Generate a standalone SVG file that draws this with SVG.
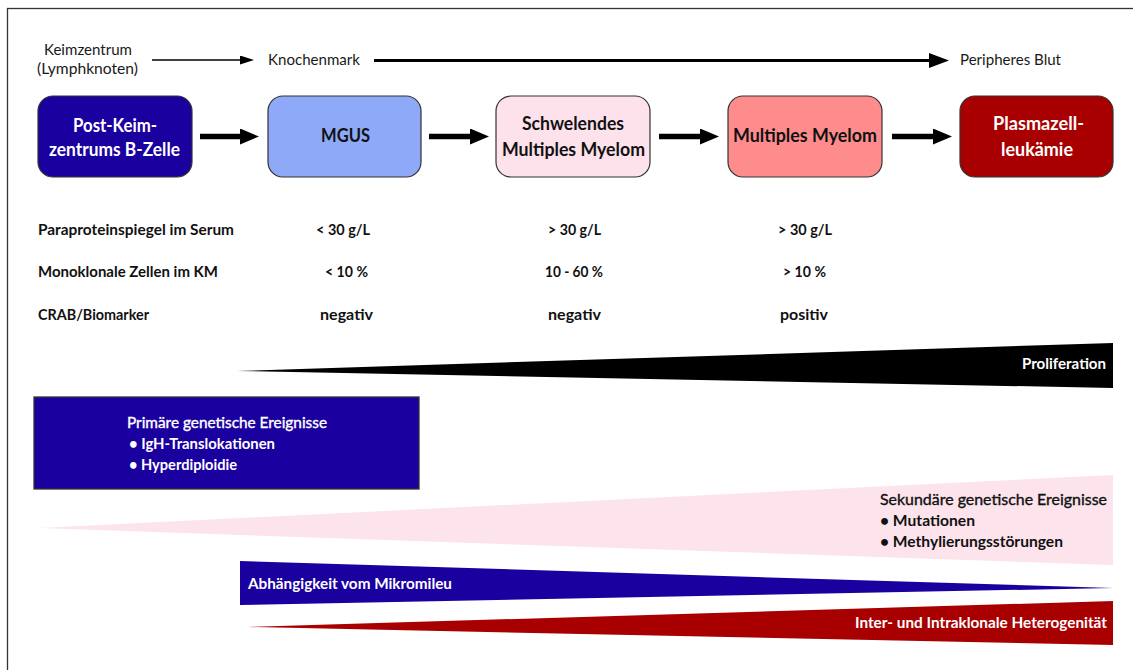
<svg xmlns="http://www.w3.org/2000/svg" width="1133" height="670" viewBox="0 0 1133 670">
  <style>
    text { font-family: Lato, "Liberation Sans", sans-serif; }
    .reg { font-size: 15px; fill: #1a1a1a; }
    .lbl { font-size: 15px; font-weight: bold; fill: #111; }
    .box { stroke: #333; stroke-width: 1.2; }
    .boxtxt { font-size: 18px; font-weight: bold; }
    .white { fill: #fff; }
    .dark { fill: #111; }
    .head { font-size: 15px; stroke-width: 0.35; }
    .head.white { stroke: #fff; }
    .head.dark { stroke: #111; }
    .bul { font-size: 15px; font-weight: bold; }
  </style>
  <defs>
    <marker id="headThin" viewBox="0 0 14 9" markerWidth="14" markerHeight="9" refX="0" refY="4.5" markerUnits="userSpaceOnUse" orient="auto">
      <path d="M0,0 L14,4.5 L0,9 Z" fill="#000"/>
    </marker>
    <marker id="headMid" viewBox="0 0 20 15" markerWidth="20" markerHeight="15" refX="0" refY="7.5" markerUnits="userSpaceOnUse" orient="auto">
      <path d="M0,0 L20,7.5 L0,15 Z" fill="#000"/>
    </marker>
    <marker id="headBold" viewBox="0 0 19 16" markerWidth="19" markerHeight="16" refX="0" refY="8" markerUnits="userSpaceOnUse" orient="auto">
      <path d="M0,0 L19,8 L0,16 Z" fill="#000"/>
    </marker>
  </defs>

  <rect width="1133" height="670" fill="#fff"/>
  <!-- outer frame, open to the right and bottom -->
  <rect x="7.5" y="8.5" width="1140" height="680" fill="none" stroke="#333" stroke-width="1.3"/>

  <!-- location axis -->
  <g id="locations">
    <text class="reg" x="44" y="55" textLength="88" lengthAdjust="spacingAndGlyphs">Keimzentrum</text>
    <text class="reg" x="37" y="74" textLength="101" lengthAdjust="spacingAndGlyphs">(Lymphknoten)</text>
    <text class="reg" x="268" y="65" textLength="92" lengthAdjust="spacingAndGlyphs">Knochenmark</text>
    <text class="reg" x="960" y="65" textLength="101" lengthAdjust="spacingAndGlyphs">Peripheres Blut</text>
  </g>

  <!-- stage nodes -->
  <g id="node-bcell">
    <rect class="box" x="38" y="96" width="154" height="81" rx="15" fill="#1A009F"/>
    <text class="boxtxt white" x="73" y="132" textLength="84" lengthAdjust="spacingAndGlyphs">Post-Keim-</text>
    <text class="boxtxt white" x="49" y="156" textLength="131" lengthAdjust="spacingAndGlyphs">zentrums B-Zelle</text>
  </g>
  <g id="node-mgus">
    <rect class="box" x="268" y="96" width="153" height="81" rx="15" fill="#8FA9F9"/>
    <text class="boxtxt dark" x="321" y="142" textLength="49" lengthAdjust="spacingAndGlyphs">MGUS</text>
  </g>
  <g id="node-smm">
    <rect class="box" x="496" y="96" width="154" height="81" rx="15" fill="#FDE1EB"/>
    <text class="boxtxt dark" x="522" y="130" textLength="102" lengthAdjust="spacingAndGlyphs">Schwelendes</text>
    <text class="boxtxt dark" x="502" y="156" textLength="143" lengthAdjust="spacingAndGlyphs">Multiples Myelom</text>
  </g>
  <g id="node-mm">
    <rect class="box" x="728" y="96" width="154" height="81" rx="15" fill="#FF8C8C"/>
    <text class="boxtxt dark" x="733" y="142" textLength="144" lengthAdjust="spacingAndGlyphs">Multiples Myelom</text>
  </g>
  <g id="node-pcl">
    <rect class="box" x="960" y="96" width="153" height="81" rx="15" fill="#A80000"/>
    <text class="boxtxt white" x="993" y="130" textLength="91" lengthAdjust="spacingAndGlyphs">Plasmazell-</text>
    <text class="boxtxt white" x="1001" y="156" textLength="72" lengthAdjust="spacingAndGlyphs">leukämie</text>
  </g>

  <!-- connectors -->
  <g id="connectors" stroke="#000" fill="none">
    <line x1="152" y1="60" x2="240" y2="60" stroke-width="1.3" marker-end="url(#headThin)"/>
    <line x1="374" y1="60.5" x2="929" y2="60.5" stroke-width="3" marker-end="url(#headMid)"/>
    <line x1="200" y1="136.5" x2="240" y2="136.5" stroke-width="5.5" marker-end="url(#headBold)"/>
    <line x1="429" y1="136.5" x2="470" y2="136.5" stroke-width="5.5" marker-end="url(#headBold)"/>
    <line x1="659" y1="136.5" x2="700" y2="136.5" stroke-width="5.5" marker-end="url(#headBold)"/>
    <line x1="892" y1="136.5" x2="933" y2="136.5" stroke-width="5.5" marker-end="url(#headBold)"/>
  </g>

  <!-- criteria table -->
  <g id="criteria">
    <text class="lbl" x="38" y="235" textLength="196" lengthAdjust="spacingAndGlyphs">Paraproteinspiegel im Serum</text>
    <text class="lbl" x="38" y="277" textLength="180" lengthAdjust="spacingAndGlyphs">Monoklonale Zellen im KM</text>
    <text class="lbl" x="38" y="320" textLength="111" lengthAdjust="spacingAndGlyphs">CRAB/Biomarker</text>

    <text class="lbl" x="316" y="235" textLength="54" lengthAdjust="spacingAndGlyphs">&lt; 30 g/L</text>
    <text class="lbl" x="325" y="277" textLength="43" lengthAdjust="spacingAndGlyphs">&lt; 10 %</text>
    <text class="lbl" x="320" y="320" textLength="53" lengthAdjust="spacingAndGlyphs">negativ</text>

    <text class="lbl" x="548" y="235" textLength="53" lengthAdjust="spacingAndGlyphs">&gt; 30 g/L</text>
    <text class="lbl" x="545" y="277" textLength="58" lengthAdjust="spacingAndGlyphs">10 - 60 %</text>
    <text class="lbl" x="548" y="320" textLength="53" lengthAdjust="spacingAndGlyphs">negativ</text>

    <text class="lbl" x="778" y="235" textLength="54" lengthAdjust="spacingAndGlyphs">&gt; 30 g/L</text>
    <text class="lbl" x="783" y="277" textLength="43" lengthAdjust="spacingAndGlyphs">&gt; 10 %</text>
    <text class="lbl" x="780" y="320" textLength="48" lengthAdjust="spacingAndGlyphs">positiv</text>
  </g>

  <!-- proliferation wedge -->
  <g id="proliferation">
    <polygon points="237,371 1113,343 1113,388" fill="#000"/>
    <text class="lbl white" x="1022" y="369" textLength="84" lengthAdjust="spacingAndGlyphs">Proliferation</text>
  </g>

  <!-- primary genetic events -->
  <g id="primary-events">
    <rect x="34" y="397" width="385" height="92" fill="#1A009F" stroke="#333" stroke-width="1.3"/>
    <text class="head white" x="127" y="428" textLength="200" lengthAdjust="spacingAndGlyphs">Primäre genetische Ereignisse</text>
    <text class="bul white" x="129" y="449" textLength="146" lengthAdjust="spacingAndGlyphs">• IgH-Translokationen</text>
    <text class="bul white" x="129" y="470" textLength="108" lengthAdjust="spacingAndGlyphs">• Hyperdiploidie</text>
  </g>

  <!-- secondary genetic events wedge -->
  <g id="secondary-events">
    <polygon points="40,528 1113,475 1113,565" fill="#FCE3EC"/>
    <text class="head dark" x="880" y="505" textLength="227" lengthAdjust="spacingAndGlyphs">Sekundäre genetische Ereignisse</text>
    <text class="bul dark" x="880" y="526" textLength="95" lengthAdjust="spacingAndGlyphs">• Mutationen</text>
    <text class="bul dark" x="880" y="547" textLength="183" lengthAdjust="spacingAndGlyphs">• Methylierungsstörungen</text>
  </g>

  <!-- microenvironment dependence wedge -->
  <g id="microenvironment">
    <polygon points="240,561 1113,588 240,605" fill="#1A009F"/>
    <text class="lbl white" x="248" y="589" textLength="204" lengthAdjust="spacingAndGlyphs">Abhängigkeit vom Mikromileu</text>
  </g>

  <!-- heterogeneity wedge -->
  <g id="heterogeneity">
    <polygon points="248,627 1113,601 1113,645" fill="#A80000"/>
    <text class="lbl white" x="855" y="628" textLength="252" lengthAdjust="spacingAndGlyphs">Inter- und Intraklonale Heterogenität</text>
  </g>
</svg>
